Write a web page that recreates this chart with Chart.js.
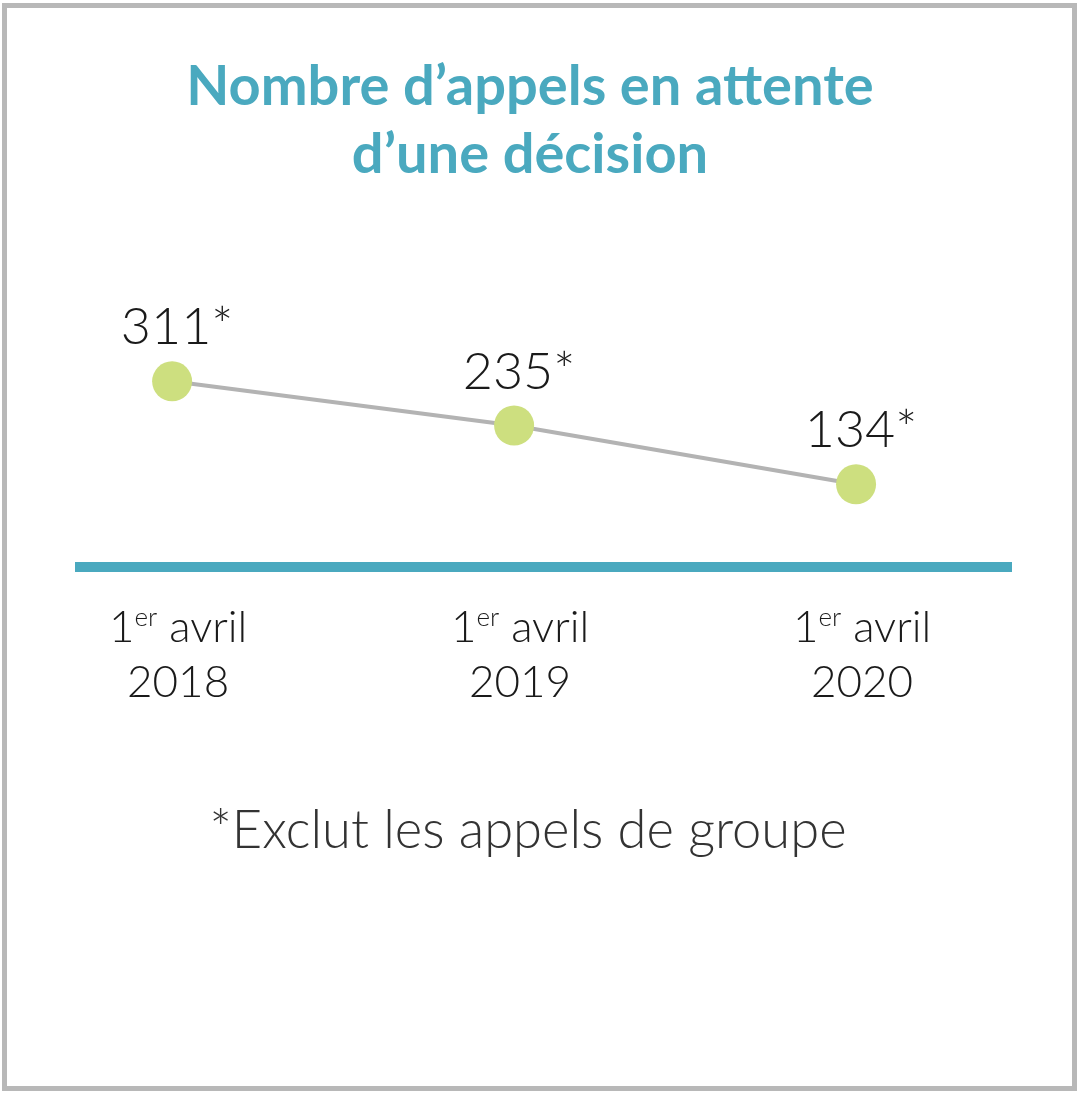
<!DOCTYPE html>
<html>
<head>
<meta charset="utf-8">
<script src="https://cdn.jsdelivr.net/npm/chart.js@4.4.1/dist/chart.umd.min.js"></script>
<style>
  html, body { margin: 0; padding: 0; background: #fff; }
  #wrap { width: 1080px; height: 1096px; }
</style>
</head>
<body>
<div id="wrap"><canvas id="myChart" width="1080" height="1096"></canvas></div>
<script>
// data
var years = ["2018", "2019", "2020"];
var labelTop = "avril";
var appels = [311, 235, 134];
var titleLines = ["Nombre d\u2019appels en attente", "d\u2019une d\u00e9cision"];
var footnote = "*Exclut les appels de groupe";

var teal = "#4aa9bf";
var green = "#cddf7f";
var grey = "#b3b3b3";

var points = [];
for (var i in appels) {
    points.push({ x: Number(i), y: appels[i] });
}

// frame, title, axis line, value labels, x labels, footnote
var decor = {
    id: "decor",
    beforeDraw: function(chart) {
        var ctx = chart.ctx;
        ctx.save();
        ctx.fillStyle = "#fff";
        ctx.fillRect(0, 0, chart.width, chart.height);
        ctx.fillStyle = teal;
        ctx.font = "bold 56px Lato";
        ctx.textAlign = "center";
        ctx.textBaseline = "alphabetic";
        ctx.fillText(titleLines[0], 530, 105);
        ctx.fillText(titleLines[1], 530, 173);
        ctx.restore();
    },
    beforeDatasetsDraw: function(chart) {
        var ctx = chart.ctx;
        var area = chart.chartArea;
        var y0 = chart.scales.y.getPixelForValue(chart.scales.y.min);
        ctx.save();
        ctx.fillStyle = teal;
        ctx.fillRect(area.left, y0 - 5, area.right - area.left, 10);
        ctx.restore();
    },
    afterDatasetsDraw: function(chart) {
        var ctx = chart.ctx;
        var meta = chart.getDatasetMeta(0);
        var area = chart.chartArea;
        ctx.save();
        ctx.textBaseline = "alphabetic";

        meta.data.forEach(function(pt, i) {
            // value above point
            ctx.font = "300 52px Lato";
            ctx.fillStyle = "#1a1a1a";
            ctx.textAlign = "center";
            ctx.fillText(appels[i] + "*", pt.x + 5, pt.y - 37);

            // x labels: 1er avril / year
            var cx = pt.x + 6;
            var b1 = area.bottom + 75;
            ctx.font = "300 44px Lato";
            var w1 = ctx.measureText("1").width;
            var wa = ctx.measureText(" " + labelTop).width;
            ctx.font = "300 26px Lato";
            var we = ctx.measureText("er").width;
            var sx = cx - (w1 + we + wa) / 2;
            ctx.textAlign = "left";
            ctx.fillStyle = "#1a1a1a";
            ctx.font = "300 44px Lato";
            ctx.fillText("1", sx, b1);
            ctx.font = "300 26px Lato";
            ctx.fillText("er", sx + w1, b1 - 16);
            ctx.font = "300 44px Lato";
            ctx.fillText(" " + labelTop, sx + w1 + we, b1);
            ctx.textAlign = "center";
            ctx.fillText(years[i], cx, b1 + 55);
        });

        ctx.font = "300 52.5px Lato";
        ctx.fillStyle = "#333";
        ctx.textAlign = "center";
        ctx.fillText(footnote, 528, area.bottom + 281);

        ctx.strokeStyle = "#b8b8b8";
        ctx.lineWidth = 5;
        ctx.strokeRect(4.5, 5.5, 1070, 1083);
        ctx.restore();
    }
};

var ctx = document.getElementById("myChart");

var LineGraph = new Chart(ctx, {
    type: "line",
    data: {
        datasets: [{
            label: "Appels",
            data: points,
            borderColor: grey,
            borderWidth: 4,
            tension: 0,
            pointRadius: 20,
            pointHoverRadius: 20,
            pointBorderWidth: 0,
            pointBackgroundColor: green,
            pointBorderColor: green
        }]
    },
    options: {
        responsive: false,
        devicePixelRatio: 1,
        animation: false,
        layout: {
            padding: { left: 75, right: 68, top: 250, bottom: 529 }
        },
        scales: {
            x: { type: "linear", display: false, min: -0.284, max: 2.456 },
            y: { display: false, min: -8.3, max: 536.8 }
        },
        plugins: {
            legend: { display: false },
            tooltip: { enabled: false },
            title: { display: false }
        }
    },
    plugins: [decor]
});
</script>
</body>
</html>
